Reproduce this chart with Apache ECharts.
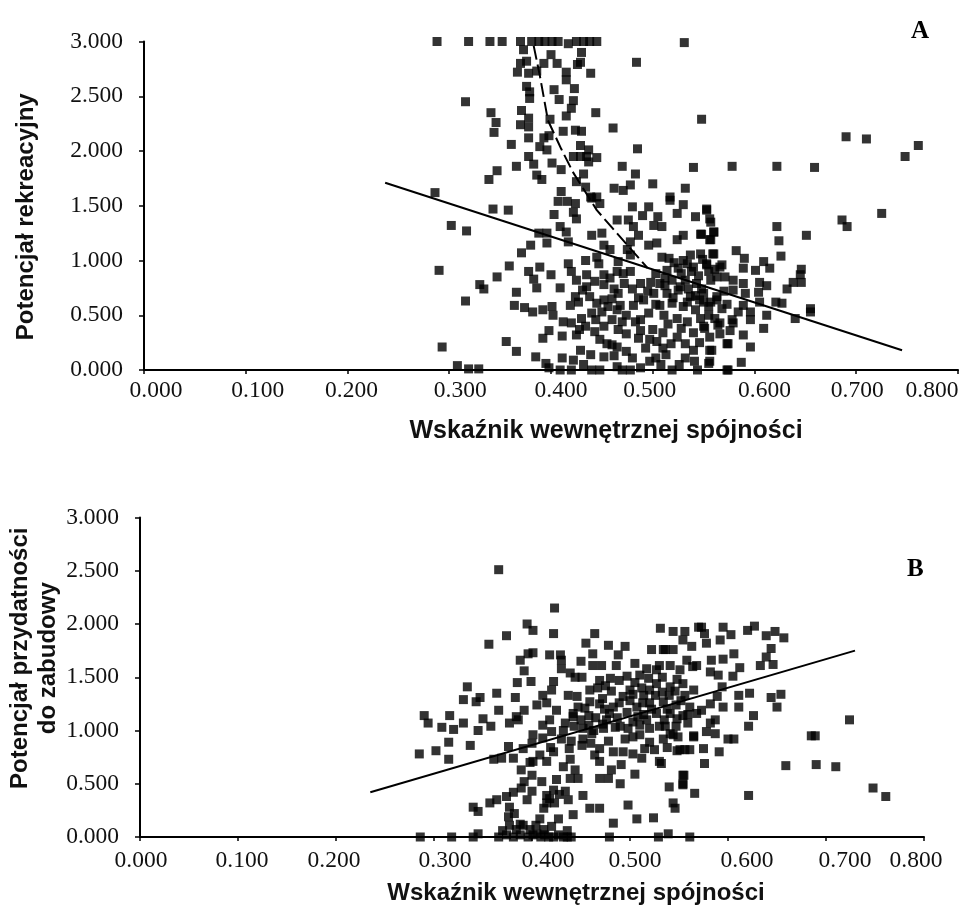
<!DOCTYPE html>
<html><head><meta charset="utf-8">
<style>html,body{margin:0;padding:0;background:#fff}#c{width:961px;height:908px}</style>
<script src="https://cdn.jsdelivr.net/npm/echarts@6/dist/echarts.min.js"></script>
</head><body><div id="c"></div>
<script>
const xTicks=[0,0.1,0.2,0.3,0.4,0.5,0.6,0.7,0.8];
const xNameA="Wskaźnik wewnętrznej spójności";
const xNameB="Wskaźnik wewnętrznej spójności";
const yNameA="Potencjał rekreacyjny";
const yNameB="Potencjał przydatności\ndo zabudowy";
const pointsA=[
[.288,3],[.319,3],[.340,3],[.352,3],[.370,3],[.381,3],[.388,3],[.394,3],[.401,3],[.407,3],[.417,2.98],[.425,3],[.432,3],[.438,3],[.445,3],[.531,2.99],
[.373,2.925],[.400,2.88],[.430,2.90],[.429,2.81],[.426,2.79],[.376,2.82],[.370,2.80],[.393,2.80],[.406,2.80],[.484,2.81],[.367,2.72],[.378,2.71],[.386,2.73],[.415,2.72],[.439,2.71],[.415,2.65],
[.376,2.59],[.379,2.54],[.379,2.48],[.403,2.56],[.423,2.57],[.408,2.47],[.422,2.46],[.316,2.45],[.420,2.39],[.444,2.35],[.341,2.35],[.371,2.37],[.378,2.30],[.346,2.26],[.370,2.24],[.378,2.22],[.399,2.29],[.415,2.32],[.548,2.29],[.461,2.21],[.344,2.17],[.412,2.18],[.424,2.19],[.430,2.18],[.378,2.12],[.393,2.12],[.398,2.14],[.361,2.06],[.389,2.04],[.396,2.01],[.429,2.05],[.437,2.01],[.485,2.02],
[.378,1.95],[.422,1.95],[.429,1.95],[.435,1.95],[.445,1.94],[.383,1.88],[.401,1.89],[.410,1.83],[.437,1.90],[.366,1.86],[.470,1.86],[.540,1.85],[.347,1.82],[.339,1.74],[.386,1.78],[.391,1.74],[.483,1.79],[.432,1.79],[.425,1.72],[.434,1.67],[.462,1.66],[.471,1.64],[.478,1.69],[.500,1.70],[.532,1.66],[.286,1.62],[.410,1.63],[.439,1.58],[.445,1.58],[.517,1.58],
[.690,2.13],[.710,2.11],[.761,2.05],[.748,1.95],[.578,1.86],[.622,1.86],[.659,1.85],[.725,1.43],[.686,1.37],[.691,1.31],[.553,1.47],[.556,1.38],[.622,1.31],[.560,1.26],[.651,1.23],[.556,1.19],[.624,1.18],[.548,1.24],[.626,1.04],[.582,1.09],[.559,1.06],[.590,1.02],[.589,.93],[.609,.99],[.601,.91],[.615,.93],[.646,.92],[.645,.87],[.638,.80],[.646,.80],[.632,.74],[.605,.80],[.612,.77],[.604,.71],[.579,.82],[.589,.79],[.591,.70],[.605,.62],[.621,.62],[.627,.61],[.655,.56],[.655,.53],[.596,.53],[.612,.50],[.640,.47],[.596,.46],[.609,.38],[.579,.43],[.564,.41],[.551,.38],[.589,.32],[.574,.24],[.596,.21],[.556,.30],[.556,.18],[.587,.07],[.556,.08],[.574,0],[.578,.46],[.55,.62],[.566,.94],[.553,.97],[.563,.85],[.579,.73],[.563,.64],[.589,.59],
[.343,1.47],[.358,1.46],[.302,1.32],[.317,1.27],[.290,.91],[.380,1.14],[.371,1.07],[.359,.95],[.378,.90],[.347,.85],[.330,.78],[.334,.74],[.316,.63],[.389,.94],[.400,.87],[.383,.83],[.386,.75],[.366,.71],[.364,.59],[.374,.57],[.382,.53],[.392,.55],[.401,.58],[.402,.50],[.293,.21],[.356,.26],[.366,.17],[.308,.04],[.319,.01],[.329,.01],[.385,.12],[.398,.02],[.409,0],[.392,.29],[.398,.36],[.395,.06],[.388,1.25],[.396,1.25],[.396,1.16],[.409,1.31],[.415,1.26],[.417,1.17],[.403,1.42],[.407,1.54],[.416,1.54],[.424,1.52],[.422,1.44],[.425,1.38],[.440,1.57],[.448,1.52],[.465,1.37],[.476,1.37],[.480,1.49],[.496,1.49],[.490,1.41],[.505,1.40],[.517,1.55],[.530,1.51],[.524,1.43],[.542,1.40],[.553,1.46],[.557,1.35],[.560,1.26],[.557,1.19],[.481,1.31],[.501,1.32],[.509,1.31],[.440,1.23],[.450,1.25],[.486,1.23],[.478,1.17],[.496,1.14],[.504,1.16],[.524,1.19],[.530,1.23],[.547,1.24],[.452,1.14],[.458,1.10],[.475,1.10],[.434,1.00],[.445,1.03],[.447,.97],[.478,1.05],[.509,1.03],[.417,.97],[.420,.90],[.466,.99],[.465,.90],[.478,.90],[.471,.88],[.435,.87],[.452,.87],[.425,.82],[.435,.76],[.409,.75],[.452,.78],[.462,.74],[.466,.70],[.480,.74],[.488,.79],[.424,.67],[.419,.59],[.438,.67],[.445,.61],[.452,.64],[.460,.65],[.468,.59],[.465,.55],[.440,.52],[.450,.53],[.481,.59],[.412,.44],[.420,.43],[.434,.40],[.452,.40],[.443,.35],[.466,.37],[.470,.44],[.483,.44],[.411,.31],[.425,.32],[.460,.23],[.455,.24],[.465,.21],[.486,.29],[.493,.20],[.429,.18],[.439,.14],[.411,.11],[.422,.09],[.420,0],[.432,.05],[.440,0],[.448,0],[.465,.03],[.470,0],[.480,.11],[.478,0],[.488,.02],[.503,.11],[.513,.14],[.519,0],[.532,.11],[.544,0],[.555,.06],[.573,0],[.504,.26],[.524,.30],[.540,.18],[.558,.18],[.550,.40],[.566,.43],[.573,.24],
[.503,.88],[.514,.91],[.525,.93],[.537,1.05],[.547,1.06],[.560,1.06],[.568,.96],[.530,1.00],[.540,.94],[.553,.96],[.507,.79],[.519,.82],[.532,.82],[.543,.79],[.557,.82],[.571,.85],[.501,.70],[.514,.70],[.525,.73],[.537,.67],[.550,.70],[.563,.67],[.507,.59],[.519,.61],[.530,.58],[.542,.55],[.555,.58],[.568,.56],[.496,.52],[.511,.50],[.524,.47],[.534,.44],[.547,.47],[.561,.47],
[.498,.80],[.512,.84],[.527,.76],[.545,.86],[.555,.90],[.520,.66],[.534,.62],[.546,.64],[.491,.64],[.503,.60],[.515,.42],[.528,.38],[.540,.34],[.500,.37],[.488,.46],[.538,.90],[.548,.74],[.557,.62],
[.486,.66],[.495,.72],[.472,.79],[.458,.84],[.443,.81],[.431,.73],[.427,.62],[.456,.58],[.474,.50],[.460,.46],[.444,.46],[.430,.47],[.428,.37],[.448,.28],[.474,.33],[.488,.36],[.497,.28],[.510,.34],[.518,.24],[.532,.24],[.546,.25],[.566,.33],[.510,.20],[.497,.08],[.508,.05],[.526,.05],[.541,.08],[.452,.12],[.462,.13],[.474,.17],[.528,.88],[.521,.98],[.516,1.02],[.534,.97],[.549,1.01],[.561,.92],[.570,.72],[.573,.60],[.584,.53],[.576,.36],[.535,.74],[.512,.77],[.542,.68],[.555,.50]
];
const trendSolidA=[[.237,1.71],[.745,.18]];
const trendDashedA=[[.383,2.96],[.389,2.69],[.397,2.28],[.410,2.02],[.422,1.80],[.445,1.46],[.460,1.30],[.495,.93]];
const pointsB=[
[.366,2.51],[.423,2.15],[.395,2.00],[.401,1.94],[.374,1.89],[.356,1.81],[.422,1.91],[.464,1.91],[.531,1.96],[.544,1.93],[.556,1.93],[.570,1.97],[.455,1.82],[.478,1.80],[.495,1.79],[.522,1.76],[.534,1.76],[.544,1.76],[.554,1.85],[.563,1.79],[.462,1.72],[.401,1.73],[.396,1.72],[.388,1.66],[.418,1.71],[.429,1.71],[.430,1.66],[.450,1.65],[.488,1.71],[.462,1.61],[.471,1.61],[.486,1.61],[.392,1.56],[.430,1.58],[.439,1.54],[.444,1.50],[.451,1.50],[.505,1.63],[.517,1.58],[.530,1.61],[.541,1.61],[.551,1.57],[.564,1.60],[.385,1.45],[.399,1.46],[.422,1.46],[.480,1.49],[.469,1.47],[.334,1.41],[.364,1.35],[.330,1.29],[.347,1.31],[.343,1.27],[.383,1.31],[.366,1.19],[.290,1.14],[.316,1.14],[.350,1.11],[.392,1.19],[.384,1.13],[.411,1.33],[.420,1.38],[.415,1.26],[.405,1.24],[.437,1.33],[.446,1.32],[.459,1.38],[.467,1.40],[.459,1.27],[.469,1.25],[.479,1.16],[.483,1.22],[.493,1.32],[.500,1.38],[.514,1.33],[.527,1.44],[.541,1.41],[.554,1.44],[.565,1.38],[.507,1.22],[.520,1.26],[.534,1.27],[.547,1.24],[.561,1.22],[.497,1.51],[.510,1.52],[.527,1.57],[.425,1.19],[.442,1.16],[.454,1.21],[.514,1.15],[.541,1.16],[.554,1.14],[.568,1.16],
[.294,1.07],[.308,1.03],[.320,1.01],[.330,1.07],[.358,1.04],[.345,1.00],[.377,1.07],[.386,1.10],[.315,.89],[.337,.86],[.302,.81],[.285,.78],[.315,.73],[.376,.85],[.361,.73],[.369,.74],[.381,.74],[.391,.83],[.401,.96],[.400,.88],[.411,1.05],[.420,.99],[.418,1.10],[.432,1.00],[.442,1.13],[.452,1.02],[.451,.86],[.422,.80],[.401,.71],[.415,.71],[.439,.73],[.389,.63],[.400,.58],[.410,.52],[.425,.54],[.432,.66],[.444,.63],[.439,.55],[.447,.55],[.464,.77],[.469,.71],[.483,.80],[.493,.80],[.469,.55],[.478,.55],[.481,.63],[.491,.68],[.505,.59],[.490,.50],[.512,.74],[.530,.71],[.520,.89],[.551,.82],[.561,.82],[.544,.96],[.503,.94],[.461,.97],[.473,1.02],[.490,1.04],[.510,1.05],[.530,1.04],[.547,1.04],[.565,.94],[.469,.83],[.503,.78],[.554,.58],[.554,.50],[.540,.47],[.566,.41],[.389,.46],[.381,.42],[.374,.38],[.364,.35],[.357,.32],[.395,.35],[.340,.28],[.345,.24],[.415,.39],[.422,.44],[.434,.43],[.437,.35],[.415,.32],[.423,.32],[.452,.39],[.459,.27],[.469,.27],[.498,.30],[.442,.21],[.408,.17],[.427,.17],[.420,.10],[.507,.17],[.524,.18],[.483,.13],[.377,.28],[.376,.19],[.377,.11],[.391,.11],
[.286,0],[.318,0],[.340,0],[.345,.03],[.366,0],[.374,.02],[.381,0],[.388,.02],[.396,0],[.405,.03],[.413,.02],[.422,0],[.432,0],[.440,0],[.479,0],[.529,0],[.539,.03],[.561,0],
[.576,1.91],[.573,1.97],[.595,1.97],[.603,1.90],[.620,1.94],[.627,1.98],[.639,1.89],[.648,1.93],[.657,1.87],[.578,1.82],[.592,1.85],[.536,1.76],[.644,1.77],[.639,1.69],[.646,1.62],[.633,1.61],[.606,1.72],[.595,1.67],[.583,1.66],[.612,1.59],[.605,1.51],[.590,1.52],[.582,1.55],[.568,1.61],[.558,1.66],[.594,1.41],[.589,1.32],[.611,1.33],[.622,1.35],[.611,1.22],[.595,1.22],[.582,1.25],[.573,1.19],[.654,1.34],[.644,1.31],[.650,1.22],[.626,1.14],[.621,1.04],[.587,1.10],[.582,1.07],[.578,.99],[.587,.97],[.559,1.15],[.559,1.07],[.565,.95],[.549,.94],[.541,.97],[.536,1.04],[.606,.92],[.600,.92],[.575,.83],[.591,.80],[.556,.82],[.548,.81],[.576,.69],[.532,.69],[.724,1.10],[.689,.95],[.685,.95],[.659,.67],[.690,.68],[.710,.66],[.748,.46],[.761,.38],[.621,.39],[.555,.58],[.554,.49],[.544,.32],[.546,.27],
[.472,1.30],[.481,1.37],[.489,1.47],[.505,1.45],[.512,1.40],[.519,1.49],[.526,1.33],[.533,1.50],[.540,1.33],[.548,1.48],[.556,1.33],[.476,1.10],[.487,1.12],[.497,1.17],[.503,1.08],[.517,1.10],[.527,1.16],[.535,1.10],[.548,1.11],[.465,1.12],[.450,1.10],[.458,1.05],[.434,1.07],[.443,1.04],[.520,1.02],[.510,.96],[.534,.92],[.495,.92],[.478,.90],[.460,.88],[.440,.90],[.430,.92],[.411,.93],[.525,.82],[.515,.83],[.538,.84],
[.401,.02],[.409,0],[.417,0],[.427,.02],[.436,0],[.370,.06],[.384,.07],[.398,.07],[.412,.07],[.436,.06],[.388,.12],[.404,.11],[.382,.22],[.412,.27],[.428,.40],[.418,.36],[.400,.43],[.392,.52],[.398,.70],[.408,.77],[.419,.84],[.438,.83],[.452,.92],[.463,1.00],[.472,1.06],[.485,1.03],[.498,1.02],[.508,1.13],[.522,1.20],[.538,1.20],[.552,1.28],[.474,1.20],[.489,1.26],[.500,1.28],[.513,1.26],[.475,1.42],[.503,1.34],[.520,1.38],[.533,1.36],[.546,1.37],[.458,1.14],[.447,1.22]
];
const trendSolidB=[[.235,.42],[.7296,1.75]];
const tickShiftA=[12,12,4,11,10,-3,10,1,-26];
const tickShiftB=[1,4,-2,11,16,5,19,19,-8];

const serif='"Liberation Serif"', sans='"Liberation Sans"';
function richFor(shifts){
  const r={};
  shifts.forEach((s,i)=>{
    r['t'+i]={fontFamily:serif,fontSize:23.5,color:'#111',padding:[0,s<0?-2*s:0,0,s>0?2*s:0]};
  });
  return r;
}
function xAxisOf(gi,name,shifts,margin,gap,pad,fs){
  return {gridIndex:gi,type:'value',min:0,max:.8,interval:.1,
    name:name,nameLocation:'middle',nameGap:gap,nameMoveOverlap:false,
    nameTextStyle:{fontFamily:sans,fontWeight:'bold',fontSize:fs,color:'#111',padding:[0,0,0,pad]},
    axisLine:{onZero:false,lineStyle:{color:'#000',width:2}},
    axisTick:{show:true,length:4,lineStyle:{color:'#000',width:1.5}},
    splitLine:{show:false},
    axisLabel:{margin:margin,showMinLabel:true,showMaxLabel:true,hideOverlap:false,
      formatter:v=>{const i=Math.round(v*10);return '{t'+i+'|'+xTicks[i].toFixed(3)+'}';},
      rich:richFor(shifts)}};
}
function yAxisOf(gi,name,gap,pad){
  return {gridIndex:gi,type:'value',min:0,max:3,interval:.5,
    name:name,nameLocation:'middle',nameGap:gap,nameRotate:90,nameMoveOverlap:false,
    nameTextStyle:{fontFamily:sans,fontWeight:'bold',fontSize:24,color:'#111',lineHeight:28,padding:pad},
    axisLine:{onZero:false,lineStyle:{color:'#000',width:2}},
    axisTick:{show:true,length:5,lineStyle:{color:'#000',width:1.5}},
    splitLine:{show:false},
    axisLabel:{margin:21,fontFamily:serif,fontSize:23.5,color:'#111',formatter:v=>v.toFixed(3)}};
}
function scatterOf(i,d){
  return {type:'scatter',xAxisIndex:i,yAxisIndex:i,data:d,symbol:'rect',symbolSize:9,clip:false,
    itemStyle:{color:'#000'},silent:true,z:3};
}
function lineOf(i,d,dash){
  return {type:'line',xAxisIndex:i,yAxisIndex:i,data:d,showSymbol:false,symbol:'none',silent:true,z:2,
    lineStyle:{color:'#000',width:2,type:dash?[14,5]:'solid'}};
}
const chart=echarts.init(document.getElementById('c'),null,{renderer:'canvas'});
chart.setOption({
  animation:false,backgroundColor:'#fff',
  title:[
    {text:'A',left:906,top:14,textStyle:{fontFamily:serif,fontWeight:'bold',fontSize:25,color:'#000'}},
    {text:'B',left:902,top:552,textStyle:{fontFamily:serif,fontWeight:'bold',fontSize:25,color:'#000'}}
  ],
  grid:[
    {left:144,width:814,top:41.5,height:328.5,outerBoundsMode:'none'},
    {left:140,width:784,top:517.5,height:319.5,outerBoundsMode:'none'}
  ],
  xAxis:[xAxisOf(0,xNameA,tickShiftA,9,49,110,25),xAxisOf(1,xNameB,tickShiftB,12,44,88,24)],
  yAxis:[yAxisOf(0,yNameA,104,[0,22,0,0]),yAxisOf(1,yNameB,78,[0,0,0,38])],
  series:[scatterOf(0,pointsA),lineOf(0,trendSolidA,false),lineOf(0,trendDashedA,true),
          scatterOf(1,pointsB),lineOf(1,trendSolidB,false)]
});
</script></body></html>
